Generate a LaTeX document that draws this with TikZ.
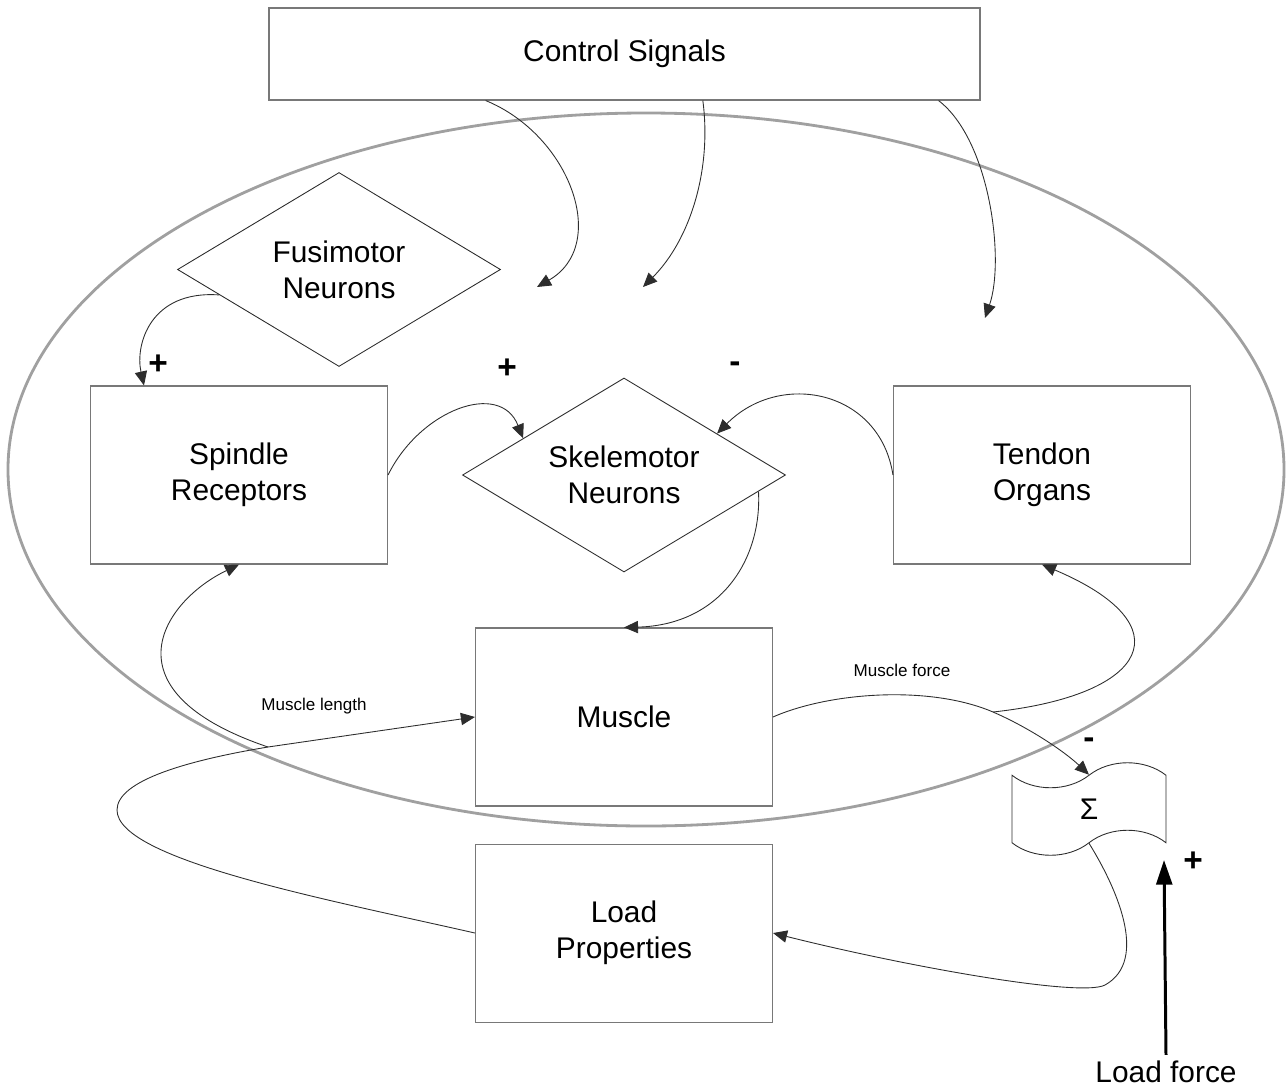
\documentclass[tikz,border=0pt]{standalone}
\usepackage{fontspec}
\setmainfont{Liberation Sans}
\usetikzlibrary{arrows.meta,shapes.geometric,shapes.symbols,positioning,calc}
\definecolor{EllGray}{RGB}{160,160,160}
\definecolor{BoxGray}{RGB}{120,120,120}
\definecolor{LineDark}{RGB}{45,45,45}
\newcommand{\bigtxt}{\fontsize{17}{20.4}\selectfont}
\newcommand{\smalltxt}{\fontsize{9.7}{11.6}\selectfont}
\newcommand{\signtxt}{\fontsize{19}{22}\selectfont\bfseries}
\tikzset{
  rbox/.style={draw=BoxGray,line width=0.6pt,rectangle,minimum width=5.94cm,minimum height=3.56cm,align=center,font=\bigtxt},
  dbox/.style={draw=LineDark,line width=0.5pt,diamond,shape aspect=1.67,minimum width=6.46cm,minimum height=3.88cm,inner sep=0pt,align=center,font=\bigtxt},
  sumbox/.style={draw=LineDark,line width=0.5pt,tape,tape bend height=0.5cm,minimum width=3.08cm,minimum height=1.85cm,font=\bigtxt},
  lbl/.style={font=\smalltxt,inner sep=1pt},
  sgn/.style={font=\signtxt,inner sep=1pt},
  arr/.style={-{Triangle[length=8pt,width=7pt]},LineDark,line width=0.5pt},
  thickarr/.style={-{Triangle[length=14pt,width=9pt]},black,line width=1.7pt},
}
\begin{document}
\begin{tikzpicture}[x=0.2mm,y=-0.2mm]
  \useasboundingbox (0,0) rectangle (1286,1088);
  \draw[EllGray,line width=1.6pt] (646,469.5) ellipse [x radius=12.76cm,y radius=7.13cm];
  \node[rbox,minimum width=14.22cm,minimum height=1.84cm] (ctrl) at (624.5,54) {Control Signals};
  \node[dbox] (skel) at (624,475) {Skelemotor\\Neurons};
  \node[dbox] (fus) at (339,269.5) {Fusimotor\\Neurons};
  \node[rbox,left=1.48cm of skel] (spin) {Spindle\\Receptors};
  \node[rbox,right=2.14cm of skel] (tend) {Tendon\\Organs};
  \node[rbox,below=1.1cm of skel] (musc) {Muscle};
  \node[rbox,below=0.74cm of musc] (load) {Load\\Properties};
  \node[sumbox] (sum) at (1089,809) {Σ};
  \node[font=\bigtxt] (lf) at (1166,1072) {Load force};
  \coordinate (csA) at (537,287);
  \coordinate (csB) at (643,287);
  \coordinate (csC) at (985,318);
  \coordinate (lenjoin) at (268,747);
  \coordinate (forcejoin) at (993,712);
  \coordinate (lftip) at (1164,860);
  \draw[arr] ($(ctrl.south west)!0.305!(ctrl.south east)$) .. controls (570,135) and (610,245) .. (csA);
  \draw[arr] ($(ctrl.south west)!0.61!(ctrl.south east)$) .. controls (712,170) and (690,240) .. (csB);
  \draw[arr] ($(ctrl.south west)!0.941!(ctrl.south east)$) .. controls (990,140) and (1005,260) .. (csC);
  \draw[arr] (fus.192) .. controls (150,290) and (135,345) .. ($(spin.north west)+(54,0)$);
  \draw[arr] (spin.east) .. controls (420,410) and (500,380) .. (skel.160);
  \draw[arr] (tend.west) .. controls (880,390) and (780,370) .. (skel.24);
  \draw[arr] (skel.-7) .. controls (762,560) and (720,625) .. (musc.north);
  \draw[arr] (load.west) .. controls (330,900) and (117,860) .. (117,810) .. controls (117,780) and (190,760) .. (lenjoin) -- (musc.west);
  \draw[arr] (lenjoin) .. controls (100,690) and (165,600) .. (spin.south);
  \draw[arr] (musc.east) .. controls (830,692) and (930,685) .. (forcejoin) .. controls (1030,728) and (1065,752) .. (sum.north);
  \draw[arr] (forcejoin) .. controls (1150,695) and (1185,625) .. (tend.south);
  \draw[arr] (sum.south) .. controls (1115,885) and (1150,960) .. (1105,985) .. controls (1080,998) and (900,965) .. (load.east);
  \draw[thickarr] (lf.north) -- (lftip);
  \node[lbl] (lenlbl) at (314,706) {Muscle length};
  \node[lbl] (forcelbl) at (902,670) {Muscle force};
  \node[sgn] (pfus) at (158,365) {+};
  \node[sgn] (pspin) at (507,369) {+};
  \node[sgn] (mtend) at (735,367) {-};
  \node[sgn] (mforce) at (1089,743) {-};
  \node[sgn] (pload) at (1193,862) {+};
\end{tikzpicture}
\end{document}
